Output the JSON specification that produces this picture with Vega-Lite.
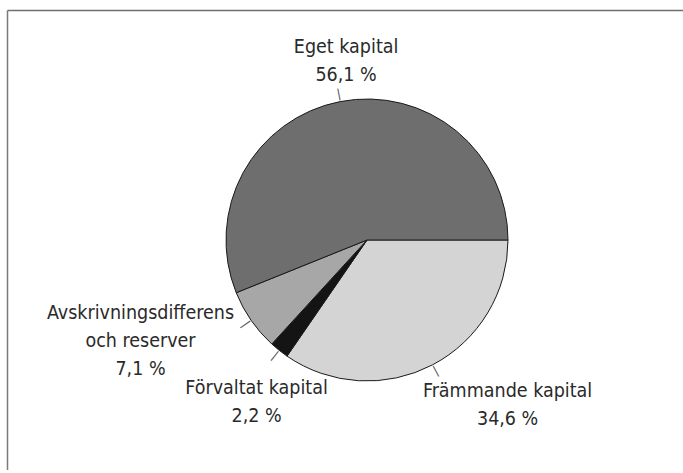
{
  "$schema": "https://vega.github.io/schema/vega-lite/v6.json",
  "width": 720,
  "height": 460,
  "autosize": {"type": "none"},
  "padding": {"left": 7, "top": 10, "right": -44, "bottom": 0},
  "background": "white",
  "config": {"view": {"stroke": null}},
  "data": {
    "values": [
      {"key": "Främmande kapital", "lines": ["Främmande kapital", "34,6 %"], "share": 34.6, "order": 1},
      {"key": "Förvaltat kapital", "lines": ["Förvaltat kapital", "2,2 %"], "share": 2.2, "order": 2},
      {"key": "Avskrivningsdifferens och reserver", "lines": ["Avskrivningsdifferens", "och reserver", "7,1 %"], "share": 7.1, "order": 3},
      {"key": "Eget kapital", "lines": ["Eget kapital", "56,1 %"], "share": 56.1, "order": 4}
    ]
  },
  "layer": [
    {
      "mark": {"type": "point", "opacity": 0},
      "encoding": {
        "x": {"field": "order", "type": "quantitative", "axis": {"orient": "top", "domain": true, "domainColor": "#6f6f6f", "domainWidth": 1.5, "ticks": false, "labels": false, "grid": false, "title": null}},
        "y": {"field": "share", "type": "quantitative", "axis": {"orient": "left", "domain": true, "domainColor": "#7a7a7a", "domainWidth": 1.5, "ticks": false, "labels": false, "grid": false, "title": null}}
      }
    },
    {
      "mark": {"type": "arc", "radius": 141, "stroke": "#1a1a1a", "strokeWidth": 1},
      "encoding": {
        "theta": {"field": "share", "type": "quantitative", "stack": true, "scale": {"range": [1.5707963267948966, 7.853981633974483]}},
        "order": {"field": "order", "type": "quantitative"},
        "color": {"field": "key", "type": "nominal", "legend": null,
          "scale": {"domain": ["Främmande kapital", "Förvaltat kapital", "Avskrivningsdifferens och reserver", "Eget kapital"],
                    "range": ["#d4d4d4", "#141414", "#a7a7a7", "#6e6e6e"]}}
      }
    },
    {
      "mark": {"type": "text", "radius": 149, "text": "|", "font": "DejaVu Sans", "fontSize": 12, "align": "center", "baseline": "middle", "color": "#555555"},
      "encoding": {
        "theta": {"field": "share", "type": "quantitative", "stack": true, "scale": {"range": [1.5707963267948966, 7.853981633974483]}},
        "order": {"field": "order", "type": "quantitative"},
        "angle": {"condition": [
          {"test": "datum.key === 'Eget kapital'", "value": 349},
          {"test": "datum.key === 'Främmande kapital'", "value": 152.3},
          {"test": "datum.key === 'Förvaltat kapital'", "value": 218.5}
        ], "value": 235.3}
      }
    },
    {
      "mark": {"type": "text", "radius": 178, "dx": 13, "dy": -18, "font": "'DejaVu Sans Condensed', 'Liberation Sans Narrow', Lato, sans-serif", "fontSize": 19.5, "lineHeight": 28, "align": "center", "baseline": "middle", "color": "#2a2a2a"},
      "encoding": {
        "theta": {"field": "share", "type": "quantitative", "stack": true, "scale": {"range": [1.5707963267948966, 7.853981633974483]}},
        "order": {"field": "order", "type": "quantitative"},
        "text": {"condition": {"test": "datum.key === 'Eget kapital'", "field": "lines"}, "value": ""}
      }
    },
    {
      "mark": {"type": "text", "radius": 212, "dx": 42, "dy": -37, "font": "'DejaVu Sans Condensed', 'Liberation Sans Narrow', Lato, sans-serif", "fontSize": 19.5, "lineHeight": 28, "align": "center", "baseline": "middle", "color": "#2a2a2a"},
      "encoding": {
        "theta": {"field": "share", "type": "quantitative", "stack": true, "scale": {"range": [1.5707963267948966, 7.853981633974483]}},
        "order": {"field": "order", "type": "quantitative"},
        "text": {"condition": {"test": "datum.key === 'Främmande kapital'", "field": "lines"}, "value": ""}
      }
    },
    {
      "mark": {"type": "text", "radius": 195, "dx": 11, "dy": -5, "font": "'DejaVu Sans Condensed', 'Liberation Sans Narrow', Lato, sans-serif", "fontSize": 19.5, "lineHeight": 28, "align": "center", "baseline": "middle", "color": "#2a2a2a"},
      "encoding": {
        "theta": {"field": "share", "type": "quantitative", "stack": true, "scale": {"range": [1.5707963267948966, 7.853981633974483]}},
        "order": {"field": "order", "type": "quantitative"},
        "text": {"condition": {"test": "datum.key === 'Förvaltat kapital'", "field": "lines"}, "value": ""}
      }
    },
    {
      "mark": {"type": "text", "radius": 244, "dx": -26, "dy": -66, "font": "'DejaVu Sans Condensed', 'Liberation Sans Narrow', Lato, sans-serif", "fontSize": 19.5, "lineHeight": 28, "align": "center", "baseline": "middle", "color": "#2a2a2a"},
      "encoding": {
        "theta": {"field": "share", "type": "quantitative", "stack": true, "scale": {"range": [1.5707963267948966, 7.853981633974483]}},
        "order": {"field": "order", "type": "quantitative"},
        "text": {"condition": {"test": "datum.key === 'Avskrivningsdifferens och reserver'", "field": "lines"}, "value": ""}
      }
    }
  ]
}
